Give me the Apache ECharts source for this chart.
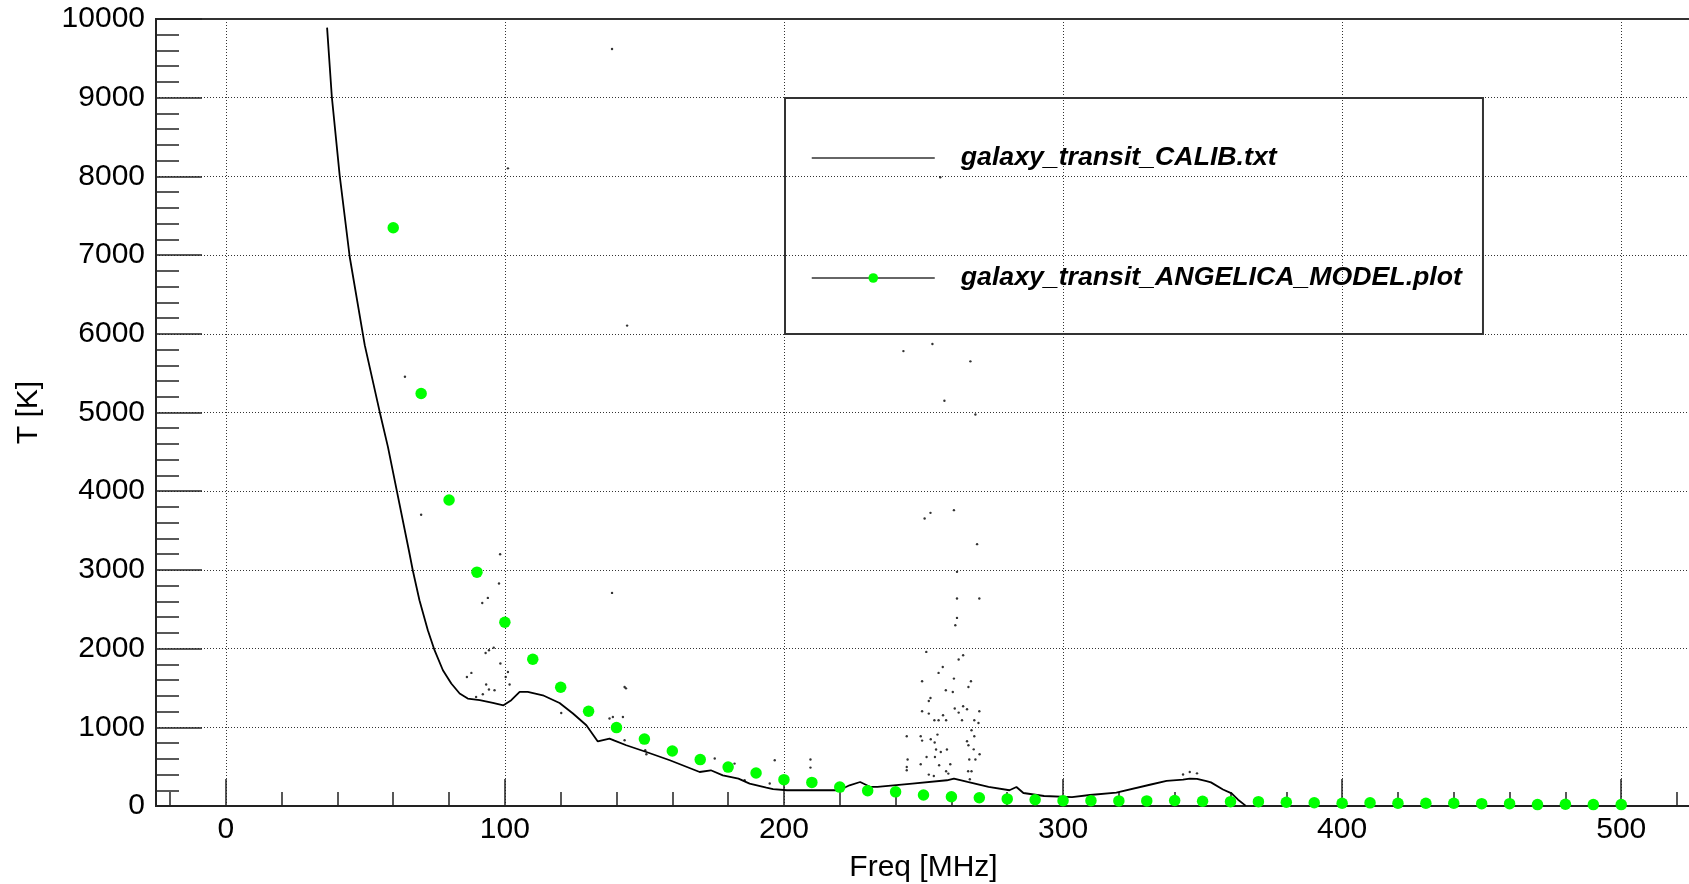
<!DOCTYPE html>
<html>
<head>
<meta charset="utf-8">
<script src="https://cdn.jsdelivr.net/npm/echarts@6/dist/echarts.min.js"></script>
<style>
html,body{margin:0;padding:0;background:#fff;}
#chart{width:1689px;height:884px;}
</style>
</head>
<body>
<div id="chart"></div>
<script>
// ---- data ----
const seriesNames = ['galaxy_transit_CALIB.txt', 'galaxy_transit_ANGELICA_MODEL.plot'];

// main measured curve [Freq MHz, T K]
const calibCurve = [
  [36.3, 9890], [38.0, 9012], [40.8, 8017], [44.4, 6979], [49.8, 5856], [55.2, 5001],
  [58.1, 4563], [65.6, 3250], [67.0, 2996], [69.4, 2615], [72.4, 2234], [74.8, 1980],
  [77.8, 1725], [80.8, 1556], [83.8, 1429], [86.7, 1365], [91.0, 1344], [95.7, 1309],
  [99.5, 1280], [102.3, 1344], [105.3, 1449], [108.2, 1449], [113.6, 1407], [119.6, 1309],
  [124.4, 1175], [129.2, 1026], [133.3, 820], [137.5, 857], [139.3, 830], [143.5, 772],
  [150.7, 686], [159.1, 581], [169.8, 432], [173.8, 454], [178.1, 390], [183.7, 348],
  [187.7, 285], [193.7, 234], [196.1, 215], [201.1, 200], [208.6, 200], [219.8, 200],
  [223.5, 263], [227.3, 305], [231.0, 242], [233.5, 242], [246.0, 285], [258.4, 327],
  [260.9, 348], [265.8, 305], [273.3, 242], [280.8, 200], [283.3, 242], [285.8, 165],
  [293.2, 127], [303.2, 114], [309.6, 140], [319.1, 170], [331.1, 270], [337.1, 320],
  [343.0, 335], [345.4, 348], [348.0, 345], [351.4, 315], [353.0, 300], [357.3, 210],
  [360.4, 160], [362.7, 80], [365.4, 5]
];

// scattered outlier samples of the measured data
const calibOutliers = [
  [138.4, 9619], [143.8, 6104], [64.2, 5454], [101.1, 8102], [70.0, 3700], [138.4, 2708],
  [143.4, 1495], [256.0, 7990], [242.8, 5780], [253.2, 5870], [266.8, 5650],
  [98.3, 3199], [97.9, 2827], [93.9, 2644], [91.9, 2580], [93.1, 1945], [94.3, 1979],
  [96.0, 2012], [98.4, 1810], [101.1, 1703], [100.3, 1640], [88.0, 1691], [86.4, 1640],
  [93.3, 1543], [101.7, 1543], [94.3, 1480], [96.3, 1471], [92.1, 1420], [89.7, 1386],
  [142.9, 1513], [120.2, 1182], [142.3, 1131], [137.5, 1111], [138.7, 1131], [142.9, 835],
  [150.3, 708], [150.7, 657], [175.2, 603], [182.3, 539], [196.7, 581], [185.9, 327],
  [194.9, 285],
  [257.5, 5149], [268.6, 4975], [250.4, 3653], [252.5, 3725], [260.9, 3759], [269.2, 3327],
  [262.0, 2975], [262.0, 2636], [270.0, 2636], [262.0, 2390], [261.4, 2297], [251.0, 1958],
  [264.2, 1916], [262.6, 1861], [256.9, 1767], [255.4, 1691], [249.5, 1585], [267.0, 1585],
  [260.9, 1619], [258.0, 1471], [260.5, 1449], [266.1, 1513], [252.5, 1373], [251.9, 1335],
  [249.5, 1204], [264.2, 1267], [261.2, 1238], [265.6, 1229], [270.0, 1204], [262.6, 1187],
  [251.9, 1174], [257.0, 1153], [253.9, 1089], [255.4, 1089], [258.1, 1089], [263.8, 1089],
  [268.2, 1089], [269.7, 1055], [267.2, 962], [244.0, 886], [249.0, 886], [268.2, 886],
  [255.0, 907], [252.6, 848], [249.5, 831], [254.0, 806], [265.6, 822], [266.1, 772],
  [254.5, 717], [258.4, 717], [268.0, 720], [256.2, 686], [251.1, 623], [254.1, 623],
  [270.1, 657], [244.3, 590], [266.4, 590], [268.6, 590], [249.0, 530], [255.6, 517],
  [259.6, 530], [209.5, 590], [209.5, 488], [244.0, 496], [244.0, 454], [251.9, 399],
  [253.7, 381], [258.1, 441], [266.0, 441], [267.2, 441], [266.6, 339], [258.9, 412],
  [345.4, 432], [348.0, 415], [343.0, 400]
];

// model points
const modelFreq = [60, 70, 80, 90, 100, 110, 120, 130, 140, 150, 160, 170, 180, 190, 200,
  210, 220, 230, 240, 250, 260, 270, 280, 290, 300, 310, 320, 330, 340, 350, 360, 370, 380,
  390, 400, 410, 420, 430, 440, 450, 460, 470, 480, 490, 500];
const modelT = [7347, 5242, 3888, 2971, 2335, 1865, 1509, 1204, 996, 850, 699, 590, 494, 420, 335,
  300, 240, 195, 180, 140, 118, 105, 90, 80, 68, 68, 65, 65, 70, 60, 55, 55, 48,
  42, 35, 40, 35, 35, 35, 30, 30, 18, 22, 18, 18];

const xRange = [-25, 525];
const yRange = [0, 10000];
const yTickStep = 1000;
const xTitle = 'Freq [MHz]';
const yTitle = 'T [K]';

// ---- chart ----
const FONT = "'Liberation Sans', Arial, Helvetica, sans-serif";
const chart = echarts.init(document.getElementById('chart'), null, {renderer: 'canvas'});
const modelData = modelFreq.map((f, i) => [f, modelT[i]]);
const plainNum = v => String(v);

chart.setOption({
  animation: false,
  backgroundColor: '#fff',
  grid: {
    left: 156, top: 19, width: 1535, height: 787,
    containLabel: false, outerBoundsMode: 'none',
    show: true, borderColor: '#333', borderWidth: 2, backgroundColor: 'transparent'
  },
  legend: {
    orient: 'vertical',
    left: 785, top: 98,
    padding: [45, 21, 41, 26],
    itemWidth: 123, itemHeight: 12, itemGap: 90,
    borderColor: '#333', borderWidth: 2,
    selectedMode: false,
    textStyle: {
      fontFamily: FONT, fontSize: 26.7, fontStyle: 'italic', fontWeight: 'bold',
      color: '#000', lineHeight: 30, padding: [0, 0, 0, 21]
    },
    data: [
      {name: seriesNames[0], itemStyle: {opacity: 0}, lineStyle: {color: '#333', width: 1.5, opacity: 1}},
      {name: seriesNames[1], lineStyle: {color: '#333', width: 1.5, opacity: 1}}
    ]
  },
  xAxis: {
    type: 'value', min: xRange[0], max: xRange[1],
    name: xTitle, nameLocation: 'middle', nameGap: 47,
    nameTextStyle: {fontFamily: FONT, fontSize: 30, color: '#000'},
    axisLine: {show: true, onZero: false, lineStyle: {color: '#222', width: 2}},
    axisTick: {show: true, inside: true, length: 27, lineStyle: {color: '#222', width: 1.5}},
    minorTick: {show: true, splitNumber: 5, length: 14, lineStyle: {color: '#222', width: 1.5}},
    axisLabel: {fontFamily: FONT, fontSize: 30, color: '#000', margin: 9,
      showMinLabel: false, showMaxLabel: false, formatter: plainNum},
    splitLine: {show: true, lineStyle: {color: '#333', width: 1, type: [1, 2]}},
    minorSplitLine: {show: false}
  },
  yAxis: {
    type: 'value', min: yRange[0], max: yRange[1], interval: yTickStep,
    name: yTitle, nameLocation: 'middle', nameGap: 112, nameRotate: 90,
    nameTextStyle: {fontFamily: FONT, fontSize: 30, color: '#000'},
    axisLine: {show: true, onZero: false, lineStyle: {color: '#222', width: 2}},
    axisTick: {show: true, inside: true, length: 46, lineStyle: {color: '#222', width: 1.5}},
    minorTick: {show: true, splitNumber: 5, length: 23, lineStyle: {color: '#222', width: 1.5}},
    axisLabel: {fontFamily: FONT, fontSize: 30, color: '#000', margin: 11, formatter: plainNum},
    splitLine: {show: true, lineStyle: {color: '#333', width: 1, type: [1, 2]}},
    minorSplitLine: {show: false}
  },
  series: [
    {
      name: seriesNames[0], type: 'line', data: calibCurve,
      symbol: 'none', smooth: false, silent: true,
      lineStyle: {color: '#000', width: 1.8},
      itemStyle: {color: '#000'}, z: 2
    },
    {
      name: seriesNames[0] + ' ', type: 'scatter', data: calibOutliers,
      symbol: 'circle', symbolSize: 2.4, silent: true,
      itemStyle: {color: '#000'}, z: 2
    },
    {
      name: seriesNames[1], type: 'line', data: modelData,
      symbol: 'circle', symbolSize: 11.5, showSymbol: true, silent: true,
      lineStyle: {width: 0, opacity: 0, color: '#333'},
      itemStyle: {color: '#00ff00', borderWidth: 0}, z: 3
    }
  ]
});
</script>
</body>
</html>
